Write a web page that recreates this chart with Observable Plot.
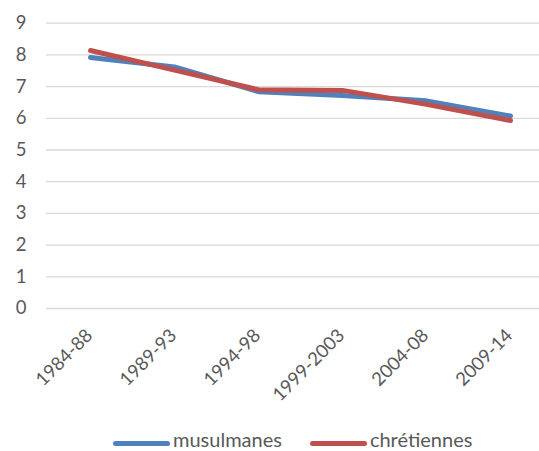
<!DOCTYPE html>
<html>
<head>
<meta charset="utf-8">
<script src="https://cdn.jsdelivr.net/npm/d3@7"></script>
<script src="https://cdn.jsdelivr.net/npm/@observablehq/plot@0.6"></script>
<style>
  html, body { margin: 0; padding: 0; background: #fff; }
  body { position: relative; width: 539px; height: 451px; overflow: hidden; font-family: Lato, "Open Sans", sans-serif; }
  #legend { position: absolute; left: 113px; top: 427px; display: flex; align-items: center; height: 24px; line-height: 24px; font-size: 20px; color: #595959; }
  .item { display: flex; align-items: center; margin-right: 28px; }
  .swatch { width: 57px; height: 5px; border-radius: 3px; margin-right: 3px; transform: translateY(4px); }
</style>
</head>
<body>
<div id="chart"></div>
<div id="legend"></div>
<script>
// Periods on the category axis
const periods = ["1984-88", "1989-93", "1994-98", "1999-2003", "2004-08", "2009-14"];
// Series names and their values per period
const seriesNames = ["musulmanes", "chrétiennes"];
const musulmanes = [7.92, 7.62, 6.84, 6.72, 6.55, 6.07];
const chretiennes = [8.14, 7.52, 6.9, 6.88, 6.44, 5.93];
const colors = ["#4F81BD", "#C0504D"];
const yTicks = [0, 1, 2, 3, 4, 5, 6, 7, 8, 9];

const rows = [
  ...periods.map((p, i) => ({period: p, value: musulmanes[i], series: seriesNames[0]})),
  ...periods.map((p, i) => ({period: p, value: chretiennes[i], series: seriesNames[1]}))
];

const chart = Plot.plot({
  width: 539,
  height: 420,
  marginLeft: 46,
  marginRight: 0,
  marginTop: 22,
  marginBottom: 112,
  style: {fontFamily: "Lato, 'Open Sans', sans-serif", fontSize: "18.5px", color: "#595959"},
  x: {type: "point", domain: periods, range: [46, 553], padding: 0.5, label: null},
  y: {domain: [0, 9], range: [308, 22.7], label: null},
  color: {domain: seriesNames, range: colors},
  marks: [
    Plot.ruleY(yTicks, {stroke: "#D9D9D9", strokeWidth: 1.3}),
    Plot.axisY({ticks: yTicks, tickSize: 0, tickPadding: 20, label: null, fill: "#595959"}),
    Plot.axisX({tickSize: 0, tickPadding: 24, dx: -1, tickRotate: -45, label: null, fill: "#595959"}),
    Plot.line(rows, {
      x: "period", y: "value", z: "series", stroke: "series",
      strokeWidth: 5, strokeLinecap: "round", strokeLinejoin: "round"
    })
  ]
});
document.getElementById("chart").appendChild(chart);

const legend = document.getElementById("legend");
seriesNames.forEach((name, i) => {
  const item = document.createElement("div");
  item.className = "item";
  const sw = document.createElement("span");
  sw.className = "swatch";
  sw.style.background = colors[i];
  const label = document.createElement("span");
  label.textContent = name;
  item.appendChild(sw);
  item.appendChild(label);
  legend.appendChild(item);
});
</script>
</body>
</html>
